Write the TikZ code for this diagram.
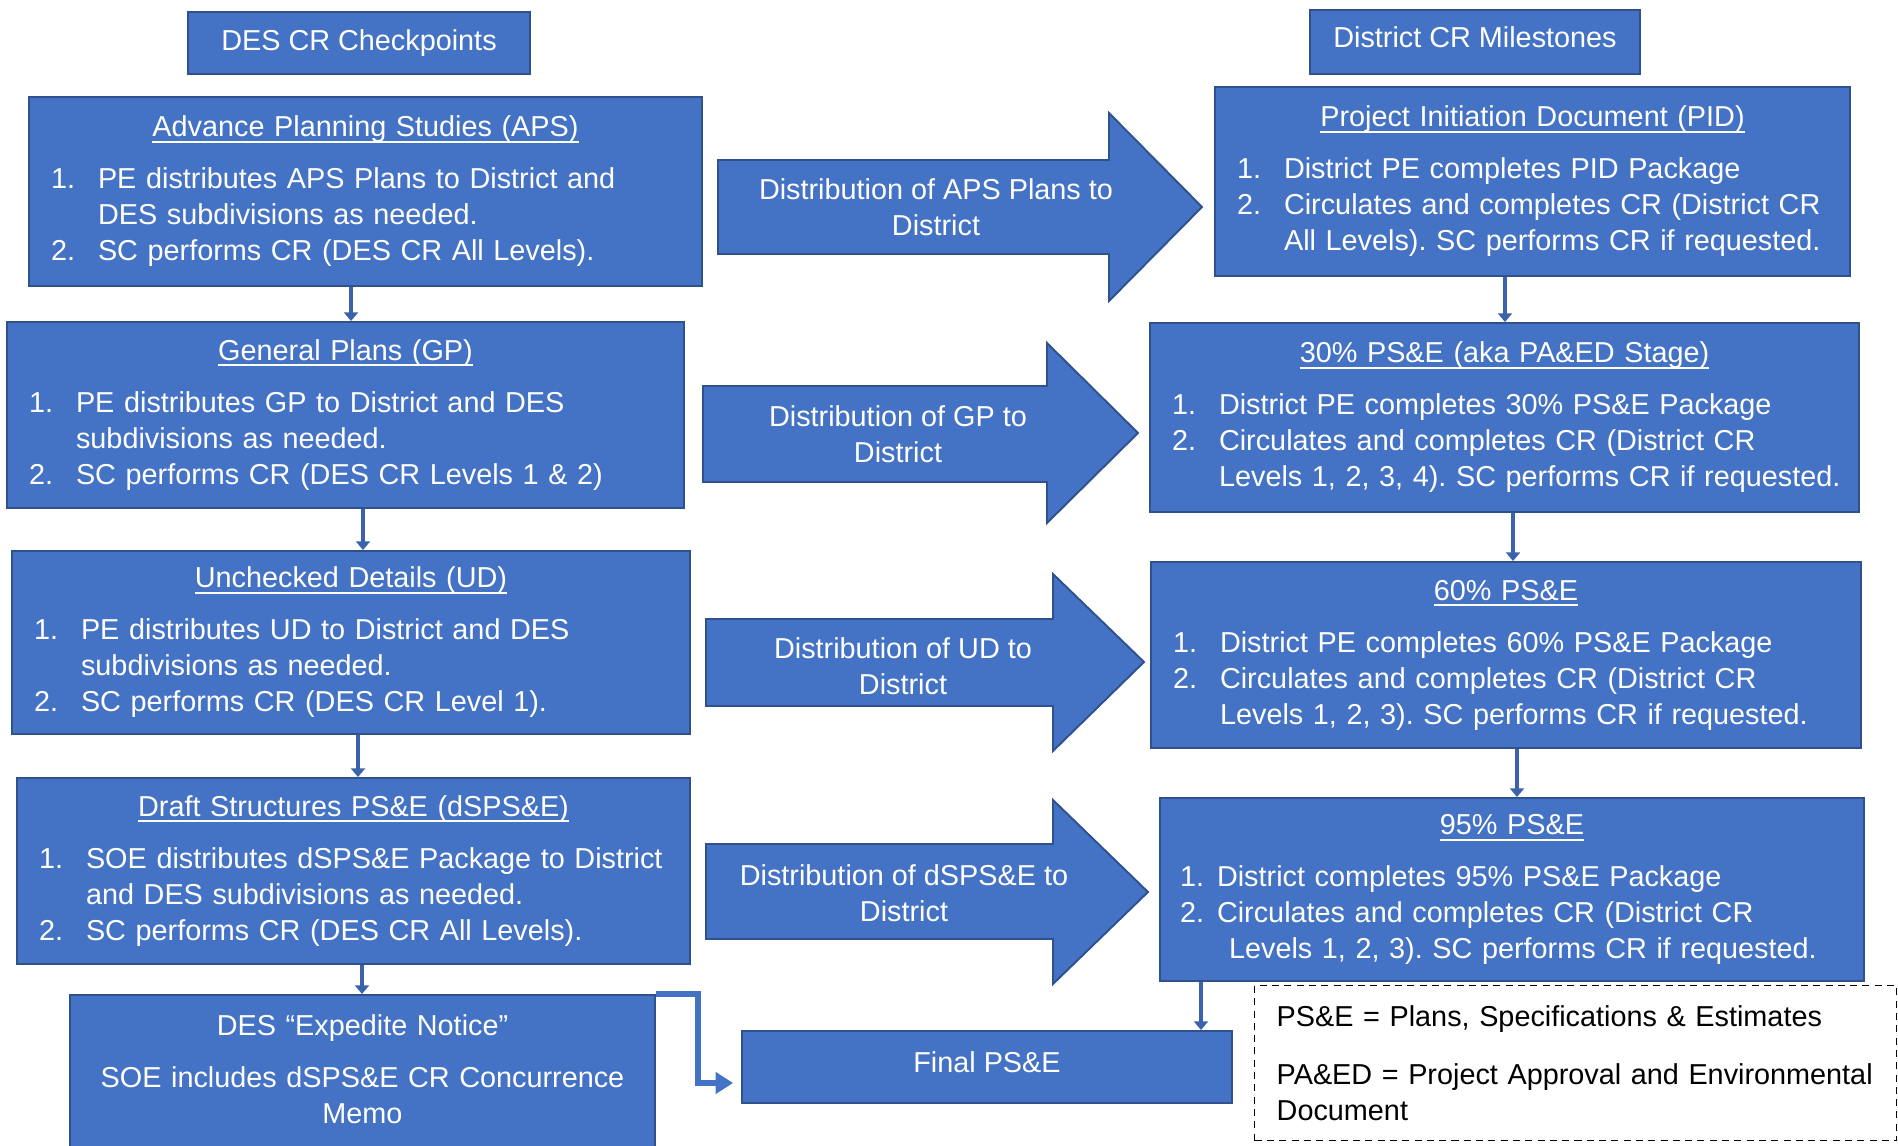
\documentclass[tikz,border=0pt]{standalone}
\usepackage{fontspec}
\setmainfont{Liberation Sans}
\usetikzlibrary{arrows.meta,positioning}

\definecolor{boxblue}{HTML}{4472C4}
\definecolor{edgeblue}{HTML}{2F528F}
\definecolor{linkblue}{HTML}{3A63AC}

\frenchspacing
\newlength{\lblw}
\setlength{\lblw}{0.94cm}
\newsavebox{\ttlbox}
\newcommand{\stagefont}{\fontsize{16.4pt}{20.5pt}\selectfont}
\newcommand{\stagetitle}[1]{\sbox{\ttlbox}{#1}\makebox[\linewidth]{\usebox{\ttlbox}\llap{\rule[-3.4pt]{\wd\ttlbox}{1.1pt}}}}
\newcommand{\stageitem}[2]{\makebox[\lblw][l]{#1}\mbox{#2}}
\newcommand{\liftup}[1]{\raisebox{0.09cm}[\height][\depth]{#1}}

\begin{document}
\begin{tikzpicture}[
		x=0.02cm, y=-0.02cm,
		font=\stagefont,
		>=Latex,
		stage/.style={draw=edgeblue, fill=boxblue, line width=1.1pt, text=white, align=left, inner xsep=0.44cm, inner ysep=0pt},
		head/.style={draw=edgeblue, fill=boxblue, line width=1.1pt, text=white, align=center, inner sep=0pt},
		blockarrow/.style={draw=edgeblue, fill=boxblue, line width=1.1pt},
		flowtext/.style={text=white, align=center, inner sep=0pt},
		link/.style={draw=linkblue, line width=2.3pt, -{Triangle[width=8pt,length=5pt]}},
		elbow/.style={draw=boxblue, line width=3.4pt, -{Triangle[width=12pt,length=10pt]}, shorten >=0.16cm},
		legend/.style={draw=black, dash pattern=on 4pt off 3pt, line width=0.8pt, align=left, inner xsep=0.44cm, inner ysep=0pt}
	]
	
	\useasboundingbox (0,0) rectangle (1898,1146);
	
	% Block arrows between the columns
	\filldraw[blockarrow] (718,160) -- (1109,160) -- (1109,113) -- (1202,207)
	-- (1109,301) -- (1109,254) -- (718,254) -- cycle;
	\filldraw[blockarrow] (703,386) -- (1047,386) -- (1047,343) -- (1138,433)
	-- (1047,523) -- (1047,482) -- (703,482) -- cycle;
	\filldraw[blockarrow] (706,619) -- (1053,619) -- (1053,574) -- (1144,662)
	-- (1053,751) -- (1053,706) -- (706,706) -- cycle;
	\filldraw[blockarrow] (706,844) -- (1053,844) -- (1053,800) -- (1148,892)
	-- (1053,984) -- (1053,939) -- (706,939) -- cycle;
	
	\node[flowtext] (distaps) at (936,207) {Distribution of APS Plans to\\District};
	\node[flowtext] (distgp) at (898,434) {Distribution of GP to\\District};
	\node[flowtext] (distud) at (903,666) {Distribution of UD to\\District};
	\node[flowtext] (distdsps) at (904,893) {Distribution of dSPS\&E to\\District};
	
	% DES column
	\node[head, minimum width=6.84cm, minimum height=1.24cm] (deshead) at (359,43) {DES CR Checkpoints};
	
	\node[stage, minimum width=13.46cm, minimum height=3.78cm, text width=12.58cm] (aps) at (365.5,191.5) {%
		\stagetitle{Advance Planning Studies (APS)}\\[0.32cm]
		\stageitem{1.}{PE distributes APS Plans to District and}\\
		\stageitem{}{DES subdivisions as needed.}\\
		\stageitem{2.}{SC performs CR (DES CR All Levels).}};
	
	\node[stage, minimum width=13.54cm, minimum height=3.72cm, text width=12.66cm] (gp) at (345.5,415) {%
		\stagetitle{General Plans (GP)}\\[0.32cm]
		\stageitem{1.}{PE distributes GP to District and DES}\\
		\stageitem{}{subdivisions as needed.}\\
		\stageitem{2.}{SC performs CR (DES CR Levels 1 \& 2)}};
	
	\node[stage, minimum width=13.56cm, minimum height=3.66cm, text width=12.68cm] (ud) at (351,642.5) {%
		\stagetitle{Unchecked Details (UD)}\\[0.32cm]
		\stageitem{1.}{PE distributes UD to District and DES}\\
		\stageitem{}{subdivisions as needed.}\\
		\stageitem{2.}{SC performs CR (DES CR Level 1).}};
	
	\node[stage, minimum width=13.46cm, minimum height=3.72cm, text width=12.58cm] (dsps) at (353.5,871) {%
		\stagetitle{Draft Structures PS\&E (dSPS\&E)}\\[0.32cm]
		\stageitem{1.}{SOE distributes dSPS\&E Package to District}\\
		\stageitem{}{and DES subdivisions as needed.}\\
		\stageitem{2.}{SC performs CR (DES CR All Levels).}};
	
	\node[stage, align=center, minimum width=11.7cm, minimum height=3.2cm, text width=10.82cm] (exped) at (362.5,1075) {%
		DES “Expedite Notice”\\[0.32cm]
		SOE includes dSPS\&E CR Concurrence\\
		Memo\par\kern0.22cm};
	
	% District column
	\node[head, minimum width=6.6cm, minimum height=1.28cm] (disthead) at (1475,42) {\liftup{District CR Milestones}};
	
	\node[stage, minimum width=12.7cm, minimum height=3.78cm, text width=11.82cm] (pid) at (1532.5,181.5) {%
		\stagetitle{Project Initiation Document (PID)}\\[0.32cm]
		\stageitem{1.}{District PE completes PID Package}\\
		\stageitem{2.}{Circulates and completes CR (District CR}\\
		\stageitem{}{All Levels). SC performs CR if requested.}};
	
	\node[stage, minimum width=14.18cm, minimum height=3.78cm, text width=13.3cm] (ps30) at (1504.5,417.5) {%
		\stagetitle{30\% PS\&E (aka PA\&ED Stage)}\\[0.32cm]
		\stageitem{1.}{District PE completes 30\% PS\&E Package}\\
		\stageitem{2.}{Circulates and completes CR (District CR}\\
		\stageitem{}{Levels 1, 2, 3, 4). SC performs CR if requested.}};
	
	\node[stage, minimum width=14.2cm, minimum height=3.72cm, text width=13.32cm] (ps60) at (1506,655) {%
		\stagetitle{60\% PS\&E}\\[0.32cm]
		\stageitem{1.}{District PE completes 60\% PS\&E Package}\\
		\stageitem{2.}{Circulates and completes CR (District CR}\\
		\stageitem{}{Levels 1, 2, 3). SC performs CR if requested.}};
	
	\node[stage, inner xsep=0.4cm, minimum width=14.08cm, minimum height=3.66cm, text width=13.28cm] (ps95) at (1512,889.5) {%
		\setlength{\lblw}{0.74cm}%
		\stagetitle{95\% PS\&E}\\[0.32cm]
		\stageitem{1.}{District completes 95\% PS\&E Package}\\
		\stageitem{2.}{Circulates and completes CR (District CR}\\
		\hspace*{0.98cm}\mbox{Levels 1, 2, 3). SC performs CR if requested.}};
	
	\node[head, minimum width=9.8cm, minimum height=1.44cm] (final) at (987,1067) {\liftup{Final PS\&E}};
	
	% Abbreviations
	\node[legend, anchor=north west, minimum width=12.84cm, minimum height=3.1cm, text width=11.96cm] (abbrev) at (1254,985) {%
		\mbox{PS\&E = Plans, Specifications \& Estimates}\\[0.44cm]
		\mbox{PA\&ED = Project Approval and Environmental}\\
		Document};
	
	% Links
	\draw[link] (aps.south -| 351,0) -- (gp.north -| 351,0);
	\draw[link] (gp.south -| 363,0) -- (ud.north -| 363,0);
	\draw[link] (ud.south -| 358,0) -- (dsps.north -| 358,0);
	\draw[link] (dsps.south -| 362,0) -- (exped.north -| 362,0);
	\draw[link] (pid.south -| 1505,0) -- (ps30.north -| 1505,0);
	\draw[link] (ps30.south -| 1513,0) -- (ps60.north -| 1513,0);
	\draw[link] (ps60.south -| 1517,0) -- (ps95.north -| 1517,0);
	\draw[link] (ps95.south -| 1201,0) -- (final.north -| 1201,0);
	\draw[elbow] (exped.north east) -- ++(42,0) |- ([yshift=-0.32cm]final.west);
	
\end{tikzpicture}
\end{document}
